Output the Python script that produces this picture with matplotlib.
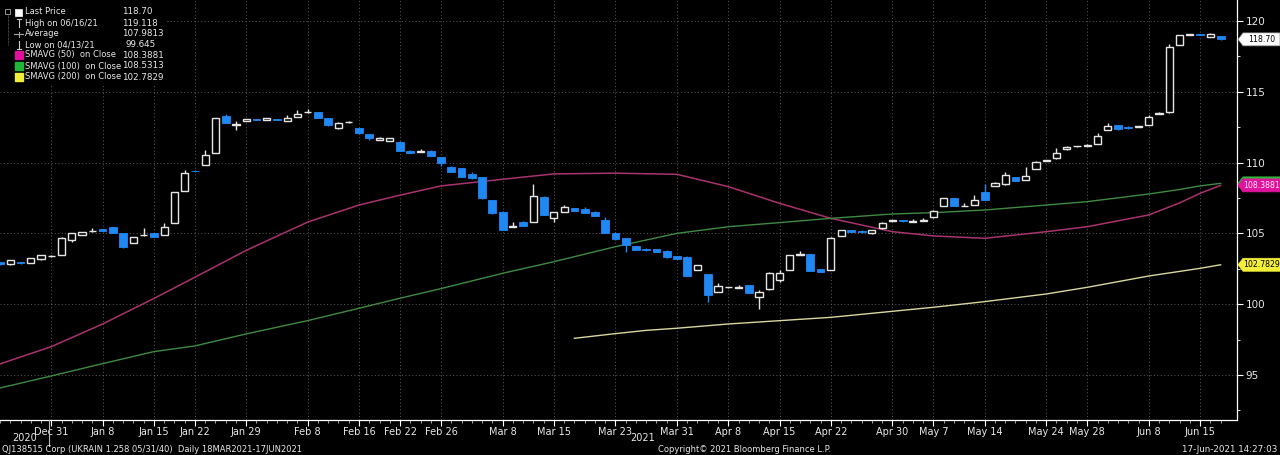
import matplotlib.pyplot as plt
import numpy as np
import pandas as pd
from matplotlib.patches import Rectangle, Polygon

plt.rcParams['font.family'] = ['Liberation Sans Narrow', 'DejaVu Sans']

# trading days shown on the chart
holidays = ['2020-12-25', '2021-01-01', '2021-01-18', '2021-02-15',
            '2021-04-02', '2021-05-03', '2021-05-31']
dates = pd.bdate_range('2020-12-23', '2021-06-17', freq='C', holidays=holidays)

# daily OHLC (Dec 23 2020 .. Jun 17 2021)
opens = [102.95, 102.85, 102.98, 102.9, 103.2, 103.38, 103.47, 104.53, 104.9, 105.15,
         105.3, 105.45, 105.03, 104.32, 104.85, 105.0, 104.9, 105.73, 108.0, 109.42,
         109.83, 110.68, 113.29, 112.62, 112.94, 113.08, 113.0, 113.08, 112.95, 113.22,
         113.55, 113.57, 113.13, 112.42, 112.83, 112.42, 112.0, 111.6, 111.55, 111.48,
         110.84, 110.78, 110.84, 110.37, 109.71, 109.6, 109.17, 108.96, 107.36, 106.53,
         105.45, 105.83, 105.8, 107.6, 106.07, 106.53, 106.77, 106.7, 106.53, 105.97,
         105.05, 104.65, 104.1, 103.87, 103.9, 103.78, 103.4, 103.36, 102.42, 102.13,
         100.88, 101.18, 101.17, 101.36, 100.53, 101.05, 101.71, 102.42, 103.5, 103.55,
         102.47, 102.42, 104.84, 105.24, 105.19, 105.0, 105.36, 105.87, 105.92, 105.8,
         105.88, 106.14, 106.95, 107.48, 106.92, 107.02, 107.9, 108.35, 108.47, 108.96,
         108.77, 109.55, 110.1, 110.3, 110.94, 111.15, 111.2, 111.31, 112.3, 112.66,
         112.53, 112.5, 112.66, 113.45, 113.55, 118.3, 119.02, 119.07, 118.9, 118.94]
highs = [103.0, 103.15, 103.0, 103.28, 103.5, 103.45, 104.72, 105.05, 105.12, 105.4,
         105.32, 105.47, 105.05, 104.77, 105.35, 105.02, 105.73, 107.95, 109.48, 109.5,
         110.9, 113.17, 113.43, 112.94, 113.1, 113.1, 113.17, 113.1, 113.36, 113.7,
         113.8, 113.6, 113.15, 112.89, 112.9, 112.44, 112.02, 111.78, 111.74, 111.5,
         110.86, 110.94, 110.86, 110.39, 109.73, 109.62, 109.36, 108.98, 107.38, 106.55,
         105.8, 105.85, 108.47, 107.62, 106.53, 107.0, 106.8, 106.84, 106.55, 106.14,
         105.07, 104.67, 104.12, 103.95, 103.92, 103.8, 103.42, 103.38, 102.79, 102.15,
         101.48, 101.23, 101.35, 101.38, 101.0, 102.25, 102.42, 103.49, 103.76, 103.57,
         102.49, 104.72, 105.26, 105.26, 105.21, 105.26, 105.77, 105.97, 105.94, 106.0,
         106.05, 106.62, 107.5, 107.5, 107.12, 107.7, 108.49, 108.6, 109.36, 108.98,
         109.71, 110.08, 110.17, 111.0, 111.14, 111.2, 111.29, 112.07, 112.77, 112.68,
         112.55, 112.57, 113.36, 113.6, 118.38, 119.03, 119.08, 119.1, 119.118, 118.96]
lows = [102.8, 102.8, 102.85, 102.88, 103.15, 103.35, 103.45, 104.4, 104.88, 105.13,
        105.15, 105.0, 104.0, 104.3, 104.83, 104.73, 104.88, 105.7, 107.98, 109.3,
        109.8, 110.65, 112.78, 112.3, 112.92, 112.98, 112.98, 112.98, 112.93, 113.2,
        113.53, 113.13, 112.6, 112.4, 112.82, 112.05, 111.6, 111.58, 111.53, 110.8,
        110.68, 110.76, 110.45, 109.76, 109.32, 108.98, 108.87, 107.46, 106.4, 105.22,
        105.43, 105.5, 105.78, 106.28, 105.83, 106.51, 106.56, 106.44, 106.21, 105.0,
        104.56, 103.71, 103.81, 103.78, 103.69, 103.29, 103.17, 101.99, 102.4, 100.18,
        100.86, 101.16, 101.15, 100.79, 99.645, 101.03, 101.59, 102.4, 103.48, 102.35,
        102.28, 102.4, 104.82, 105.11, 105.06, 104.98, 105.34, 105.85, 105.83, 105.78,
        105.86, 106.12, 106.93, 106.93, 106.9, 107.0, 107.34, 108.33, 108.45, 108.7,
        108.75, 109.53, 110.08, 110.28, 110.92, 111.13, 111.18, 111.29, 112.28, 112.33,
        112.4, 112.48, 112.64, 113.43, 113.53, 118.28, 119.0, 118.98, 118.88, 118.68]
closes = [102.85, 103.12, 102.88, 103.25, 103.45, 103.42, 104.68, 105.03, 105.1, 105.2,
          105.17, 105.03, 104.04, 104.75, 104.9, 104.75, 105.45, 107.93, 109.27, 109.38,
          110.54, 113.15, 112.8, 112.7, 113.08, 113.0, 113.15, 113.0, 113.15, 113.43,
          113.6, 113.15, 112.63, 112.78, 112.87, 112.07, 111.72, 111.76, 111.72, 110.82,
          110.7, 110.82, 110.47, 110.0, 109.34, 109.0, 108.89, 107.48, 106.42, 105.24,
          105.5, 105.52, 107.64, 106.3, 106.51, 106.84, 106.58, 106.46, 106.23, 105.03,
          104.58, 104.15, 103.83, 103.8, 103.71, 103.31, 103.19, 102.01, 102.77, 100.65,
          101.29, 101.21, 101.21, 100.81, 100.84, 102.23, 102.18, 103.47, 103.55, 102.37,
          102.3, 104.7, 105.24, 105.13, 105.08, 105.24, 105.75, 105.95, 105.85, 105.84,
          105.92, 106.6, 107.48, 106.95, 106.96, 107.36, 107.36, 108.58, 109.1, 108.72,
          109.05, 110.06, 110.15, 110.66, 111.12, 111.19, 111.27, 111.88, 112.58, 112.35,
          112.42, 112.55, 113.24, 113.5, 118.19, 119.01, 119.06, 119.02, 119.1, 118.70]

# moving averages read at sample dates
ma_dates = ['2020-12-23', '2020-12-31', '2021-01-08', '2021-01-15', '2021-01-22',
            '2021-01-29', '2021-02-08', '2021-02-16', '2021-02-22', '2021-02-26',
            '2021-03-08', '2021-03-15', '2021-03-23', '2021-03-31', '2021-04-08',
            '2021-04-15', '2021-04-22', '2021-04-30', '2021-05-07', '2021-05-14',
            '2021-05-24', '2021-05-28', '2021-06-08', '2021-06-11', '2021-06-15',
            '2021-06-17']
sma50 = [95.78, 97.0, 98.6, 100.4, 101.9, 103.8, 105.8, 107.0, 107.7, 108.35,
         108.82, 109.2, 109.25, 109.17, 108.3, 107.12, 106.06, 105.12, 104.82, 104.65,
         105.12, 105.47, 106.3, 107.15, 107.83, 108.3881]
sma100 = [94.08, 94.93, 95.8, 96.65, 97.05, 97.9, 98.84, 99.71, 100.42, 101.1,
          102.18, 103.0, 104.06, 105.0, 105.47, 105.76, 106.06, 106.37, 106.46, 106.65,
          107.0, 107.24, 107.78, 108.1, 108.35, 108.5313]
ma200_dates = ['2021-03-17', '2021-03-23', '2021-03-26', '2021-03-31', '2021-04-08',
               '2021-04-22', '2021-05-07', '2021-05-14', '2021-05-24', '2021-05-28',
               '2021-06-08', '2021-06-15', '2021-06-17']
sma200 = [97.59, 97.92, 98.15, 98.3, 98.6, 99.07, 99.78, 100.18, 100.72, 101.19,
          101.99, 102.53, 102.7829]

tick_dates = ['2020-12-31', '2021-01-08', '2021-01-15', '2021-01-22', '2021-01-29',
              '2021-02-08', '2021-02-16', '2021-02-22', '2021-02-26', '2021-03-08',
              '2021-03-15', '2021-03-23', '2021-03-31', '2021-04-08', '2021-04-15',
              '2021-04-22', '2021-04-30', '2021-05-07', '2021-05-14', '2021-05-24',
              '2021-05-28', '2021-06-08', '2021-06-15']
tick_labels = ['Dec 31', 'Jan 8', 'Jan 15', 'Jan 22', 'Jan 29', 'Feb 8', 'Feb 16',
               'Feb 22', 'Feb 26', 'Mar 8', 'Mar 15', 'Mar 23', 'Mar 31', 'Apr 8',
               'Apr 15', 'Apr 22', 'Apr 30', 'May 7', 'May 14', 'May 24', 'May 28',
               'Jun 8', 'Jun 15']

legend_labels = ['Last Price', 'High on 06/16/21', 'Average', 'Low on 04/13/21',
                 'SMAVG (50)  on Close', 'SMAVG (100)  on Close', 'SMAVG (200)  on Close']
legend_values = ['118.70', '119.118', '107.9813', '99.645', '108.3881', '108.5313', '102.7829']

# last values tagged on the right axis (later ones drawn on top)
tag_values = [108.5313, 108.3881, 102.7829, 118.70]
tag_labels = ['108.5313', '108.3881', '102.7829', '118.70']


def idx(ds):
    return [dates.get_loc(pd.Timestamp(d)) for d in ds]


BG = 'black'
UP = '#e6e6e6'
DOWN = '#1f88f5'
GRID = '#5c5c5c'
TXT = '#e8e8e8'

fig = plt.figure(figsize=(12.8, 4.55), dpi=100, facecolor=BG)
ax = fig.add_axes([0, 35 / 455, 1237 / 1280, 420 / 455], facecolor=BG)

x = np.arange(len(dates))
o = np.array(opens)
c = np.array(closes)
up = c >= o
colors = np.where(up, UP, DOWN)

# wicks
ax.vlines(x, lows, highs, colors=colors, lw=1, zorder=3)
# bodies
body_lo = np.minimum(o, c)
body_h = np.maximum(np.abs(c - o), 0.03)
ax.bar(x[up], body_h[up], bottom=body_lo[up], width=0.7, facecolor=BG,
       edgecolor=UP, linewidth=1, zorder=4)
ax.bar(x[~up], body_h[~up], bottom=body_lo[~up], width=0.76, facecolor=DOWN,
       edgecolor=DOWN, linewidth=0.6, zorder=4)

# moving averages
ax.plot(idx(ma_dates), sma50, color='#a8336e', lw=1.1, zorder=2)
ax.plot(idx(ma_dates), sma100, color='#3f8a42', lw=1.0, zorder=2)
ax.plot(idx(ma200_dates), sma200, color='#d9d6a0', lw=1.0, zorder=2)

# axes
px = 10.277
ax.set_xlim(5 - 49 / px, 5 + (1237 - 49) / px)
ax.set_ylim(91.82, 121.48)

ax.set_xticks(idx(tick_dates))
ax.set_xticklabels(tick_labels)
ax.set_xticks(x, minor=True)
ax.set_yticks([95, 100, 105, 110, 115, 120])
ax.set_yticks(np.arange(92.5, 121, 2.5), minor=True)
ax.yaxis.tick_right()
ax.tick_params(axis='x', which='major', colors='white', labelcolor=TXT,
               labelsize=7, length=4, width=0.8, pad=1)
ax.tick_params(axis='x', which='minor', colors='#bbbbbb', length=2, width=0.6)
ax.tick_params(axis='y', which='major', colors='white', labelcolor=TXT,
               labelsize=7.5, length=4, width=0.8, pad=2)
ax.tick_params(axis='y', which='minor', colors='white', length=2.5, width=0.6)
for s in ['top', 'left']:
    ax.spines[s].set_visible(False)
for s in ['bottom', 'right']:
    ax.spines[s].set_color('white')
    ax.spines[s].set_linewidth(0.9)
ax.grid(True, which='major', color=GRID, lw=0.7, linestyle=(0, (1, 2.5)), zorder=1)

# overlay in pixel coordinates for tags, legend and footer
ov = fig.add_axes([0, 0, 1, 1])
ov.set_xlim(0, 1280)
ov.set_ylim(455, 0)
ov.axis('off')

# price tags: y taken from the price axis transform
tag_styles = [('#2fb53a', 'white'), ('#e0149c', '#fde6f4'),
              ('#f2ee3a', 'black'), ('white', 'black')]
for k, (v, lab, (fc, tc)) in enumerate(zip(tag_values, tag_labels, tag_styles)):
    yp = 455 - ax.transData.transform((0, v))[1]
    ov.add_patch(Polygon([(1238, yp), (1243, yp - 6.5), (1280, yp - 6.5),
                          (1280, yp + 6.5), (1243, yp + 6.5)], closed=True,
                         fc=fc, ec='#888888' if fc == 'white' else fc, lw=0.5,
                         zorder=10 + 2 * k))
    ov.text(1261.5, yp, lab, color=tc, fontsize=5.6, ha='center', va='center',
            zorder=11 + 2 * k)

ov.add_patch(Rectangle((0, 0), 166, 84, fc=BG, ec='none', zorder=5))
rows = [12, 23, 34, 44.5, 55, 66, 77]
for r, lab, val in zip(rows, legend_labels, legend_values):
    ov.text(25, r, lab, color=TXT, fontsize=6.0, va='center', ha='left', zorder=6)
    ov.text(122 if val != '99.645' else 126, r, val, color=TXT, fontsize=6.3,
            va='center', ha='left', zorder=6)
# tree glyphs
ov.add_patch(Rectangle((5, 9), 5, 5, fc='none', ec='#aaaaaa', lw=0.6, zorder=6))
ov.plot([7.5, 7.5], [14, 45], color='#888888', lw=0.5, ls=(0, (1, 1)), zorder=6)
ov.add_patch(Rectangle((15, 8.5), 7, 7, fc='white', ec='white', lw=0.5, zorder=6))
ov.plot([19, 19], [19, 27], color='#cccccc', lw=0.8, zorder=6)
ov.plot([17, 21], [19, 19], color='#cccccc', lw=0.8, zorder=6)
ov.plot([14, 23], [34, 34], color='#aaaaaa', lw=0.8, zorder=6)
ov.plot([19, 19], [31.5, 36.5], color='#aaaaaa', lw=0.8, zorder=6)
ov.plot([19, 19], [40.5, 48.5], color='#cccccc', lw=0.8, zorder=6)
ov.plot([17, 21], [48.5, 48.5], color='#cccccc', lw=0.8, zorder=6)
for r, col in zip(rows[4:], ['#e0109a', '#22b43a', '#f0ee3a']):
    ov.add_patch(Rectangle((15, r - 3.8), 7.5, 7.5, fc=col, ec=col, zorder=6))

# year labels and footer
ov.plot([49, 49], [420, 446], color='#bbbbbb', lw=0.8)
ov.text(25, 438, '2020', color=TXT, fontsize=7, ha='center', va='center')
ov.text(643, 438, '2021', color=TXT, fontsize=7, ha='center', va='center')
ov.text(2, 449, 'QJ138515 Corp (UKRAIN 1.258 05/31/40)  Daily 18MAR2021-17JUN2021',
        color=TXT, fontsize=6.0, ha='left', va='center')
ov.text(658, 449, 'Copyright\u00a9 2021 Bloomberg Finance L.P.', color=TXT,
        fontsize=6.0, ha='left', va='center')
ov.text(1277, 449, '17-Jun-2021 14:27:03', color=TXT, fontsize=6.3,
        ha='right', va='center')

fig.savefig('out.png', dpi=100, facecolor=BG)
